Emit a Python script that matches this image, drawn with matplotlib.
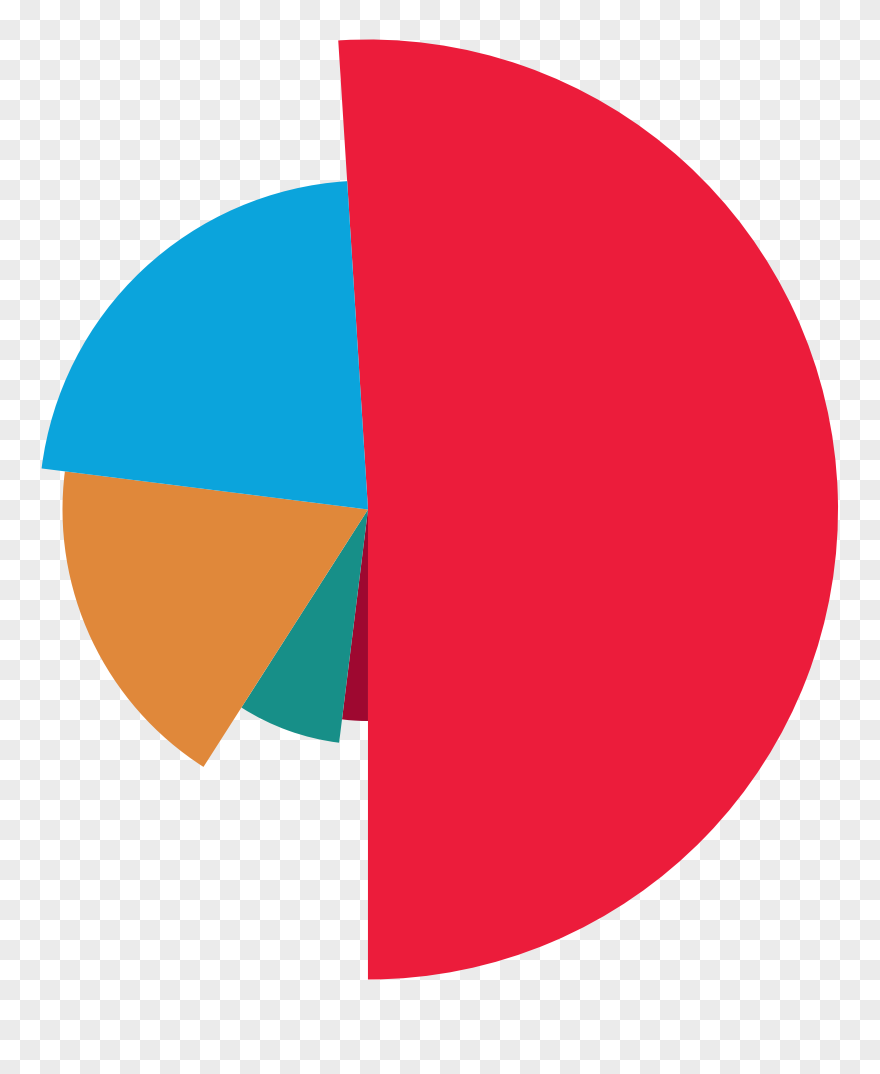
import numpy as np
import matplotlib
matplotlib.use("Agg")
import matplotlib.pyplot as plt
from matplotlib.colors import ListedColormap

# slice shares (percent of the full circle) and relative radii, clockwise from the big red one
shares = [51.01, 1.96, 7.09, 17.94, 22.0]
radii = [100, 45, 50, 65, 70]
colors = ["#EC1C3B", "#9E0830", "#178F88", "#E0883A", "#0BA4DC"]
start_deg = -3.63

W, H = 880, 1074
fig = plt.figure(figsize=(W / 100, H / 100), dpi=100)

# checkerboard backdrop (transparent png preview)
bg = fig.add_axes([0, 0, 1, 1])
yy, xx = np.indices((H, W))
board = ((yy // 20 + xx // 20) % 2).astype(float)
bg.imshow(board, cmap=ListedColormap(["#FFFFFF", "#EBEBEB"]), interpolation="nearest",
          aspect="auto", extent=(0, W, H, 0))
bg.set_axis_off()

# polar axes placed so the centre sits at (368, 509.5) px, 4.7 px per radius unit
cx, cy, scale, rmax = 368, 509.5, 4.7, 104
half = rmax * scale
ax = fig.add_axes([(cx - half) / W, (H - cy - half) / H, 2 * half / W, 2 * half / H],
                  projection="polar")
ax.set_theta_zero_location("N")
ax.set_theta_direction(-1)
ax.set_ylim(0, rmax)

widths = np.deg2rad(np.array(shares) * 3.6)
starts = np.deg2rad(start_deg) + np.concatenate([[0], np.cumsum(widths)[:-1]])
ax.bar(starts, radii, width=widths, align="edge", color=colors, linewidth=0)

ax.set_axis_off()
ax.patch.set_alpha(0)

fig.savefig("out.png", dpi=100)
